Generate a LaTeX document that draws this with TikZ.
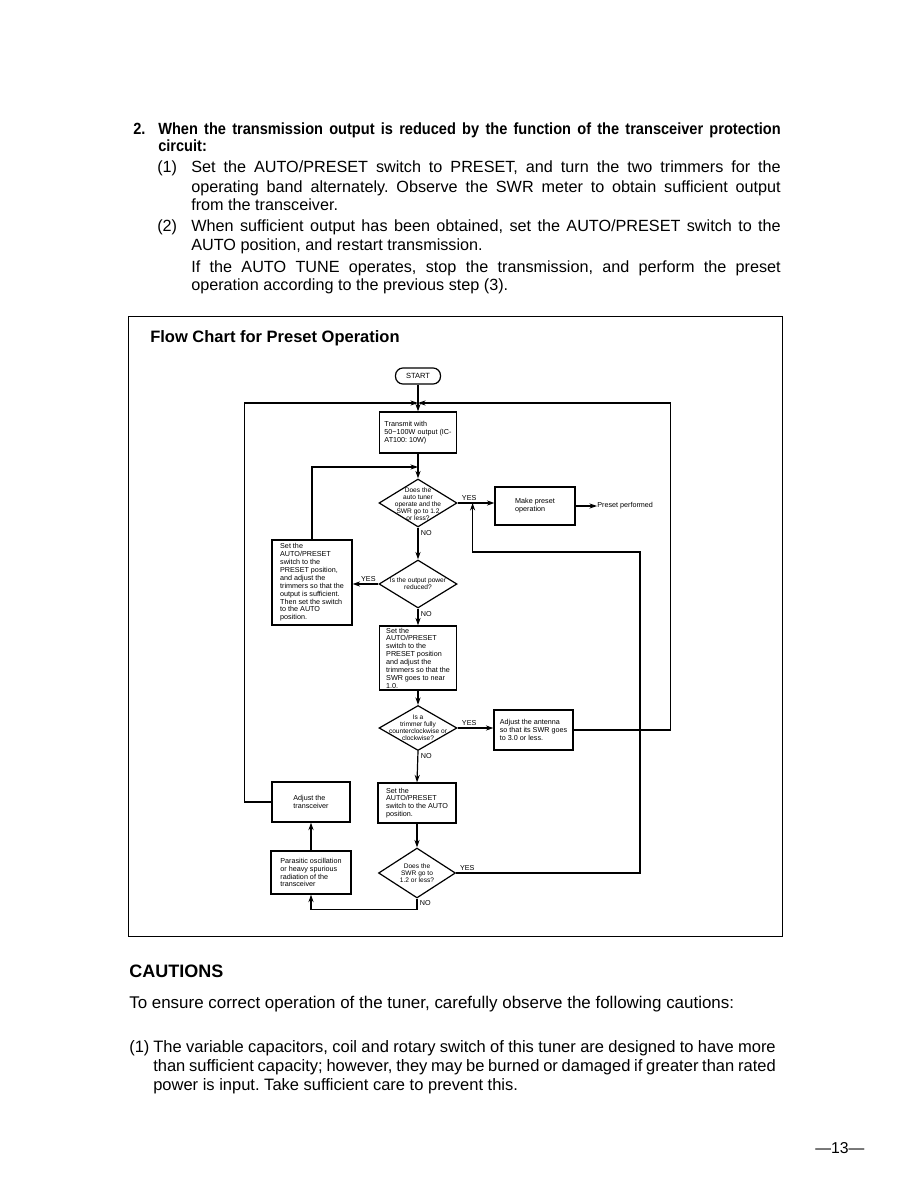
\documentclass[tikz,border=0pt]{standalone}
\usepackage{fontspec}
\setmainfont{Liberation Sans}
\newfontfamily\headfont{Liberation Sans}[FakeStretch=0.9]
\usetikzlibrary{arrows.meta,shapes.geometric}
\newcommand{\jline}[2][393pt]{\makebox[#1][s]{#2}}
\frenchspacing
\begin{document}
\begin{tikzpicture}[x=0.6667pt,y=-0.6667pt,
  txt/.style={anchor=base west,inner sep=0pt,font=\fontsize{10.8}{13}\selectfont},
  hd/.style={anchor=base west,inner sep=0pt,font=\headfont\bfseries\fontsize{10.8}{13}\selectfont},
  box/.style={draw,line width=0.8pt,align=left,inner sep=0pt,font=\fontsize{4.8}{5.25}\selectfont},
  dec/.style={draw,line width=0.8pt,shape=diamond,inner sep=0pt},
  dtxt/.style={align=center,inner sep=0pt,font=\fontsize{4.4}{4.75}\selectfont},
  lbl/.style={font=\fontsize{4.8}{5}\selectfont,inner sep=1.5pt},
  arr/.style={line width=0.8pt,-{Stealth[length=5pt,width=3.4pt]}},
  ln/.style={line width=0.8pt}]
\useasboundingbox (0,0) rectangle (918,1188);
\fill[white] (0,0) rectangle (918,1188);
\node[hd] (h0) at (133,135) {2.};
\node[hd] (h1) at (158,135) {\jline[415pt]{When the transmission output is reduced by the function of the transceiver protection}};
\node[hd] (h2) at (158,152) {circuit:};
\node[txt] (p1n) at (157,173) {(1)};
\node[txt] (p1a) at (191,173) {\jline{Set the AUTO/PRESET switch to PRESET, and turn the two trimmers for the}};
\node[txt] (p1b) at (191,193) {\jline{operating band alternately. Observe the SWR meter to obtain sufficient output}};
\node[txt] (p1c) at (191,211) {from the transceiver.};
\node[txt] (p2n) at (157,232) {(2)};
\node[txt] (p2a) at (191,232) {\jline{When sufficient output has been obtained, set the AUTO/PRESET switch to the}};
\node[txt] (p2b) at (191,251) {AUTO position, and restart transmission.};
\node[txt] (p2c) at (191,272) {\jline{If the AUTO TUNE operates, stop the transmission, and perform the preset}};
\node[txt] (p2d) at (191,290) {operation according to the previous step (3).};
\draw[line width=0.6pt] (128,316) rectangle (782,936);
\node[txt,font=\bfseries\fontsize{11}{13}\selectfont] (title) at (150,342) {Flow Chart for Preset Operation};
\node[box,rounded corners=5pt,minimum width=30pt,minimum height=10.7pt,align=center,font=\fontsize{5}{6}\selectfont] (start) at (418,376) {START};
\node[box,minimum width=51.3pt,minimum height=27.3pt] (tx) at (418,432.5) {Transmit with\\50\textasciitilde100W output (IC-\\AT100: 10W)};
\node[dec,minimum width=52pt,minimum height=32pt,label={[dtxt,yshift=-0.6pt]center:{Does the\\auto tuner\\operate and the\\SWR go to 1.2\\or less?}}] (d1) at (418,503) {};
\node[box,minimum width=53.3pt,minimum height=25.3pt] (mk) at (535,506) {Make preset\\operation};
\node[lbl,anchor=west,inner sep=0pt] (perf) at (597,506) {Preset performed};
\node[box,minimum width=53.3pt,minimum height=56.7pt] (setl) at (312,582.5) {Set the\\AUTO/PRESET\\switch to the\\PRESET position,\\and adjust the\\trimmers so that the\\output is sufficient.\\Then set the switch\\to the AUTO\\position.};
\node[dec,minimum width=52pt,minimum height=32pt,label={[dtxt]center:{Is the output power\\reduced?}}] (d2) at (418,584) {};
\node[box,minimum width=51.3pt,minimum height=42.7pt] (b3) at (418,658) {Set the\\AUTO/PRESET\\switch to the\\PRESET position\\and adjust the\\trimmers so that the\\SWR goes to near\\1.0.};
\node[dec,minimum width=52pt,minimum height=30pt,label={[dtxt]center:{Is a\\trimmer fully\\counterclockwise or\\clockwise?}}] (d3) at (418,728) {};
\node[box,minimum width=52.7pt,minimum height=26.7pt] (ant) at (533.5,730) {Adjust the antenna\\so that its SWR goes\\to 3.0 or less.};
\node[box,minimum width=52pt,minimum height=26.7pt] (b5) at (417,803) {Set the\\AUTO/PRESET\\switch to the AUTO\\position.};
\node[dec,minimum width=51.3pt,minimum height=33.3pt,label={[dtxt]center:{Does the\\SWR go to\\1.2 or less?}}] (d4) at (417,873) {};
\node[box,minimum width=52pt,minimum height=26.7pt] (adj) at (311,802) {Adjust the\\transceiver};
\node[box,minimum width=53.3pt,minimum height=28.7pt] (par) at (311,872.5) {Parasitic oscillation\\or heavy spurious\\radiation of the\\transceiver};
\coordinate (jtop) at (418,403);
\coordinate (j1) at (418,467);
\coordinate (rbend) at (640,552);
\path (d1.east) ++(15,0) coordinate (j2);
\draw[arr] (start) -- (tx);
\draw[arr] (adj.west) -- ++(-27,0) |- (jtop);
\draw[arr] (ant.east) -- ++(97,0) |- (jtop);
\draw[arr] (tx) -- (d1);
\draw[arr] (setl.north) |- (j1);
\draw[arr] (d1.east) -- (d1.east -| mk.west) node[lbl,pos=0,above right,xshift=1pt] {YES};
\draw[arr] (mk.east) -- (perf.west);
\draw[arr] (d1.south) -- (d2.north) node[lbl,pos=0,below right] {NO};
\draw[arr] (d2.west) -- (d2.west -| setl.east) node[lbl,pos=0,above left] {YES};
\draw[arr] (d2.south) -- (b3.north) node[lbl,pos=0,below right] {NO};
\draw[arr] (b3) -- (d3);
\draw[arr] (d3.east) -- (d3.east -| ant.west) node[lbl,pos=0,above right,xshift=1pt] {YES};
\draw[arr] (d3.south) -- (b5.north) node[lbl,pos=0,below right] {NO};
\draw[arr] (b5) -- (d4);
\draw[arr] (d4.east) -| (rbend) -| (j2);
\node[lbl,above right,xshift=1pt] (y4) at (d4.east) {YES};
\draw[arr] (d4.south) -- ++(0,11) node[lbl,pos=0.4,right] {NO} -| (par.south);
\draw[arr] (par) -- (adj);
\node[txt,font=\bfseries\fontsize{12}{14}\selectfont] (cau) at (129,977) {CAUTIONS};
\node[txt,font=\fontsize{11.3}{13}\selectfont] (c0) at (129,1008) {To ensure correct operation of the tuner, carefully observe the following cautions:};
\node[txt,font=\fontsize{11}{13}\selectfont] (c1n) at (129,1052) {(1)};
\node[txt,font=\fontsize{11}{13}\selectfont] (c1a) at (153,1052) {\jline[415pt]{The variable capacitors, coil and rotary switch of this tuner are designed to have more}};
\node[txt,font=\fontsize{11}{13}\selectfont] (c1b) at (153,1071) {\jline[415pt]{than sufficient capacity; however, they may be burned or damaged if greater than rated}};
\node[txt,font=\fontsize{11}{13}\selectfont] (c1c) at (153,1090) {power is input. Take sufficient care to prevent this.};
\node[txt,font=\fontsize{10.5}{13}\selectfont] (pg) at (815,1153) {—13—};
\end{tikzpicture}
\end{document}
